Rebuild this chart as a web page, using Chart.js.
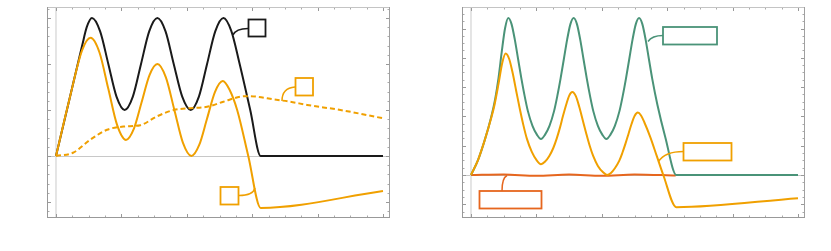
<!DOCTYPE html>
<html>
<head>
<meta charset="utf-8">
<script src="https://cdn.jsdelivr.net/npm/chart.js@4/dist/chart.umd.min.js"></script>
<style>
  html, body { margin: 0; padding: 0; background: #fff; }
  canvas { position: absolute; left: 0; top: 0; }
</style>
</head>
<body>
<canvas id="leftChart" width="831" height="251"></canvas>
<canvas id="rightChart" width="831" height="251"></canvas>
<script>
// left panel
const leftBlackT = [0, 0.2, 0.4, 0.47, 0.55, 0.675, 0.8, 0.925, 1.05, 1.175, 1.3, 1.425, 1.55, 1.675, 1.8, 1.93, 2.06, 2.185, 2.31, 2.435, 2.56, 2.68, 2.8, 2.97, 3.13, 5];
const leftBlackY = [0, 1.2, 2.4, 2.8, 3, 2.71, 2.0, 1.29, 1, 1.29, 2.0, 2.71, 3, 2.71, 2.0, 1.29, 1, 1.29, 2.0, 2.71, 3, 2.72, 2.05, 1.0, 0, 0];

const leftOrangeT = [0, 0.2, 0.4, 0.53, 0.665, 0.8, 0.935, 1.07, 1.19, 1.31, 1.43, 1.55, 1.68, 1.81, 1.94, 2.07, 2.19, 2.31, 2.43, 2.55, 2.65, 2.77, 2.94, 3.13, 5];
const leftOrangeY = [0, 1.2, 2.3, 2.57, 2.25, 1.46, 0.67, 0.35, 0.59, 1.175, 1.76, 2.0, 1.71, 1.0, 0.29, 0, 0.24, 0.815, 1.39, 1.63, 1.45, 1.0, 0, -1.13, -0.76];

const leftDashT = [0, 0.26, 0.52, 0.78, 1.03, 1.29, 1.54, 1.8, 2.05, 2.31, 2.56, 2.82, 2.94, 3.07, 3.33, 3.58, 3.84, 4.35, 5];
const leftDashY = [0, 0.07, 0.35, 0.57, 0.64, 0.67, 0.86, 1.0, 1.04, 1.07, 1.18, 1.29, 1.30, 1.29, 1.23, 1.18, 1.11, 1.0, 0.82];

// right panel
const rightGreenT = [0, 0.107, 0.21, 0.31, 0.37, 0.42, 0.47, 0.52, 0.57,
    0.62, 0.67, 0.72, 0.77, 0.82, 0.87, 0.94, 1.01, 1.07,
    1.13, 1.20, 1.27, 1.32, 1.37, 1.42, 1.47, 1.52, 1.57,
    1.62, 1.67, 1.72, 1.77, 1.82, 1.87, 1.94, 2.01, 2.07,
    2.13, 2.20, 2.27, 2.32, 2.37, 2.42, 2.47, 2.52, 2.57,
    2.62, 2.67, 2.72, 2.77, 2.85, 2.97, 3.14, 5];
const rightGreenY = [0, 0.51, 1.19, 1.99, 2.6, 3.3, 4.2, 5.0, 5.36,
    5.15, 4.62, 3.96, 3.30, 2.70, 2.18, 1.68, 1.37, 1.23,
    1.37, 1.68, 2.18, 2.70, 3.30, 3.96, 4.62, 5.15, 5.36,
    5.15, 4.62, 3.96, 3.30, 2.70, 2.18, 1.68, 1.37, 1.23,
    1.37, 1.68, 2.18, 2.70, 3.30, 3.96, 4.62, 5.15, 5.36,
    5.15, 4.62, 3.96, 3.3, 2.4, 1.3, 0, 0];

const rightOrangeT = [0, 0.107, 0.21, 0.31, 0.36, 0.42, 0.48, 0.53,
    0.584, 0.638, 0.692, 0.746, 0.80, 0.854, 0.93, 1.005, 1.07,
    1.13, 1.195, 1.26, 1.31, 1.358, 1.406, 1.454, 1.502, 1.55,
    1.603, 1.656, 1.709, 1.762, 1.815, 1.868, 1.94, 2.016, 2.08,
    2.14, 2.20, 2.268, 2.315, 2.362, 2.409, 2.456, 2.503, 2.55,
    2.60, 2.65, 2.74, 2.84, 2.94, 3.14, 5];
const rightOrangeY = [0, 0.51, 1.19, 1.95, 2.4, 3.1, 3.85, 4.15,
    3.96, 3.47, 2.86, 2.26, 1.71, 1.24, 0.79, 0.50, 0.37,
    0.45, 0.64, 0.93, 1.24, 1.60, 2.01, 2.39, 2.71, 2.83,
    2.69, 2.32, 1.87, 1.42, 1.0, 0.65, 0.31, 0.10, 0,
    0.07, 0.23, 0.49, 0.76, 1.07, 1.41, 1.75, 2.02, 2.13,
    2.03, 1.8, 1.3, 0.65, 0, -1.1, -0.79];

const rightRedT = [0, 0.5, 1.0, 1.5, 2.0, 2.5, 3.13];
const rightRedY = [0, 0.02, -0.03, 0.02, -0.03, 0.02, -0.02];

// tick positions (no labels are shown in the picture)
const xTicks = [0, 1, 2, 3, 4, 5];
const leftYTicks = [-1, 0, 1, 2, 3];
const rightYTicks = [-1, 0, 1, 2, 3, 4, 5];

const BLACK = '#1a1a1a';
const ORANGE = '#f0a000';
const GREEN = '#4a9378';
const RED = '#e6661e';

function pts(ts, ys) {
    return ts.map((t, i) => ({ x: t, y: ys[i] }));
}

function line(ts, ys, color, dash) {
    return {
        data: pts(ts, ys),
        borderColor: color,
        borderWidth: 2,
        borderDash: dash || [],
        pointRadius: 0,
        fill: false,
        cubicInterpolationMode: 'monotone'
    };
}

// frame, inward ticks and the zero axes, Mathematica style
const framePlugin = {
    id: 'frame',
    beforeDatasetsDraw(chart, args, opts) {
        const ctx = chart.ctx;
        const a = chart.chartArea;
        const xs = chart.scales.x, ys = chart.scales.y;
        ctx.save();
        ctx.lineWidth = 1;
        // axes through the origin
        ctx.strokeStyle = '#c8c8c8';
        ctx.beginPath();
        ctx.moveTo(a.left, Math.round(ys.getPixelForValue(0)) + 0.5);
        ctx.lineTo(a.right, Math.round(ys.getPixelForValue(0)) + 0.5);
        ctx.stroke();
        ctx.strokeStyle = '#dcdcdc';
        ctx.lineWidth = 1.5;
        ctx.beginPath();
        ctx.moveTo(xs.getPixelForValue(0), a.top);
        ctx.lineTo(xs.getPixelForValue(0), a.bottom);
        ctx.stroke();

        // ticks
        ctx.lineWidth = 1;
        const drawX = (v, len, col) => {
            const px = Math.round(xs.getPixelForValue(v)) + 0.5;
            ctx.strokeStyle = col;
            ctx.beginPath();
            ctx.moveTo(px, a.bottom); ctx.lineTo(px, a.bottom - len);
            ctx.moveTo(px, a.top); ctx.lineTo(px, a.top + len);
            ctx.stroke();
        };
        const drawY = (v, len, col) => {
            const py = Math.round(ys.getPixelForValue(v)) + 0.5;
            ctx.strokeStyle = col;
            ctx.beginPath();
            ctx.moveTo(a.left, py); ctx.lineTo(a.left + len, py);
            ctx.moveTo(a.right, py); ctx.lineTo(a.right - len, py);
            ctx.stroke();
        };
        const xt = opts.xTicks, yt = opts.yTicks;
        for (let i = 0; i < xt.length; i++) {
            drawX(xt[i], 4, '#999');
            if (i < xt.length - 1) {
                const step = (xt[i + 1] - xt[i]) / opts.xMinor;
                for (let k = 1; k < opts.xMinor; k++) drawX(xt[i] + k * step, 2.5, '#aaa');
            }
        }
        const ystep = (yt[1] - yt[0]) / opts.yMinor;
        for (let v = yt[0] - 2 * (yt[1] - yt[0]); v <= yt[yt.length - 1] + (yt[1] - yt[0]); v += ystep) {
            const val = Math.round(v * 1000) / 1000;
            if (val < ys.min || val > ys.max) continue;
            const major = yt.some(t => Math.abs(t - val) < 1e-6);
            drawY(val, major ? 4 : 2.5, major ? '#999' : '#aaa');
        }

        // frame
        ctx.strokeStyle = '#c4c4c4';
        ctx.beginPath();
        ctx.moveTo(a.left, a.top + 0.5); ctx.lineTo(a.right, a.top + 0.5);
        ctx.stroke();
        ctx.strokeStyle = '#a0a0a0';
        ctx.beginPath();
        ctx.moveTo(a.right - 0.5, a.top); ctx.lineTo(a.right - 0.5, a.bottom);
        ctx.stroke();
        ctx.strokeStyle = '#999';
        ctx.beginPath();
        ctx.moveTo(a.left + 0.5, a.top); ctx.lineTo(a.left + 0.5, a.bottom);
        ctx.moveTo(a.left, a.bottom - 0.5); ctx.lineTo(a.right, a.bottom - 0.5);
        ctx.stroke();
        ctx.restore();
    },
    afterDatasetsDraw(chart, args, opts) {
        const ctx = chart.ctx;
        ctx.save();
        (opts.boxes || []).forEach(b => {
            ctx.strokeStyle = b.color;
            ctx.lineWidth = 1.8;
            ctx.strokeRect(b.x, b.y, b.w, b.h);
            ctx.lineWidth = 1.5;
            ctx.beginPath();
            ctx.moveTo(b.c[0], b.c[1]);
            ctx.quadraticCurveTo(b.c[2], b.c[3], b.c[4], b.c[5]);
            ctx.stroke();
        });
        ctx.restore();
    }
};

function makeChart(id, datasets, pad, yMin, yMax, frameOpts) {
    const ctx = document.getElementById(id).getContext('2d');
    return new Chart(ctx, {
        type: 'line',
        data: { datasets: datasets },
        options: {
            responsive: false,
            animation: false,
            layout: { padding: pad },
            plugins: {
                legend: { display: false },
                tooltip: { enabled: false },
                frame: frameOpts
            },
            scales: {
                x: { type: 'linear', display: false, min: -0.1376, max: 5.107 },
                y: { type: 'linear', display: false, min: yMin, max: yMax }
            }
        },
        plugins: [framePlugin]
    });
}

makeChart('leftChart', [
    line(leftDashT, leftDashY, ORANGE, [5, 3]),
    line(leftOrangeT, leftOrangeY, ORANGE),
    line(leftBlackT, leftBlackY, BLACK)
], { left: 47, top: 7, right: 831 - 390, bottom: 251 - 218 }, -1.348, 3.239, {
    xTicks: xTicks, yTicks: leftYTicks, xMinor: 4, yMinor: 5,
    boxes: [
        { x: 248.5, y: 19.5, w: 17, h: 17, color: BLACK, c: [248, 28.5, 236, 28.5, 233, 35] },
        { x: 295.5, y: 78, w: 17.5, h: 17.5, color: ORANGE, c: [295, 87, 282, 88, 282, 101] },
        { x: 220.5, y: 187, w: 18, h: 17.5, color: ORANGE, c: [239, 195.5, 253, 195.5, 255, 188] }
    ]
});

makeChart('rightChart', [
    line(rightOrangeT, rightOrangeY, ORANGE),
    line(rightGreenT, rightGreenY, GREEN),
    line(rightRedT, rightRedY, RED)
], { left: 462, top: 7, right: 831 - 805, bottom: 251 - 218 }, -1.468, 5.734, {
    xTicks: xTicks, yTicks: rightYTicks, xMinor: 4, yMinor: 4,
    boxes: [
        { x: 663, y: 27, w: 54, h: 17.5, color: GREEN, c: [663, 35.5, 652, 35.5, 648, 41.5] },
        { x: 683.5, y: 143, w: 48, h: 17.5, color: ORANGE, c: [683.5, 151.5, 665, 151.5, 658.5, 161.5] },
        { x: 479.5, y: 191, w: 62, h: 17.5, color: RED, c: [502, 191, 502, 178, 507, 175.5] }
    ]
});
</script>
</body>
</html>
